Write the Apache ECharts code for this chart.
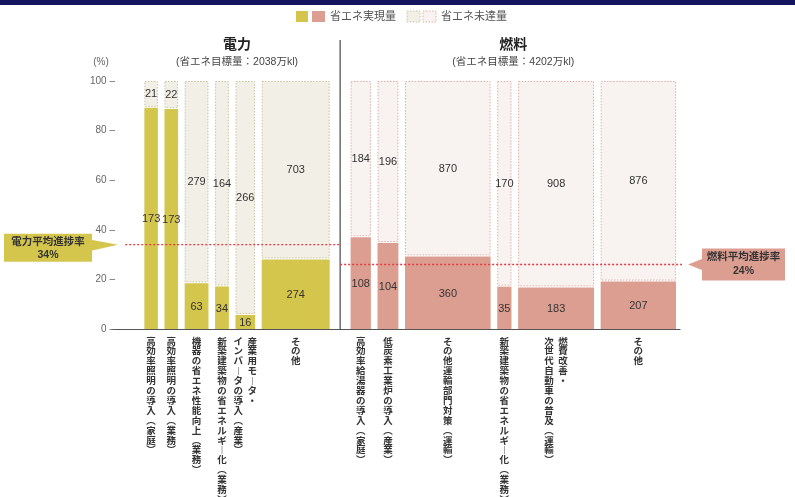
<!DOCTYPE html>
<html>
<head>
<meta charset="utf-8">
<script src="https://cdn.jsdelivr.net/npm/echarts@6.0.0/dist/echarts.min.js"></script>
<style>
html, body { margin: 0; padding: 0; background: #fff; }
#main { width: 795px; height: 497px; }
</style>
</head>
<body>
<div id="main"></div>
<script>
// 電力
var elecNames = ['高効率照明の導入（家庭）', '高効率照明の導入（業務）', '機器の省エネ性能向上（業務）',
  '新築建築物の省エネルギー化（業務）', '産業用モータ・\nインバータの導入（産業）', 'その他'];
var elecDone = [173, 173, 63, 34, 16, 274];
var elecLeft = [21, 22, 279, 164, 266, 703];

// 燃料
var fuelNames = ['高効率給湯器の導入（家庭）', '低炭素工業炉の導入（産業）', 'その他運輸部門対策（運輸）',
  '新築建築物の省エネルギー化（業務）', '燃費改善・\n次世代自動車の普及（運輸）', 'その他'];
var fuelDone = [108, 104, 360, 35, 183, 207];
var fuelLeft = [184, 196, 870, 170, 908, 876];

var elecAvg = 34;
var fuelAvg = 24;
var fuelAvgLine = 26; // the dashed line in the source sits a little above 24%
var elecTarget = 2038, fuelTarget = 4202;
var yMin = 0, yMax = 100, yStep = 20;

// horizontal layout in 万kl units (bar width = total amount)
var leftPad = 465, gap = 95, midGap = 300, xMax = 8161;

var FONT = "'Liberation Sans', 'Noto Sans CJK JP', sans-serif";
var colors = [
  { done: '#d4c54c', left: '#f2f0e6', border: '#c8c2a4' },
  { done: '#dd9e92', left: '#f8f2f1', border: '#e0afa7' }
];
var names = [elecNames, fuelNames];

var items = [];
var x = leftPad;
function addGroup(done, left, g) {
  for (var i = 0; i < done.length; i++) {
    var t = done[i] + left[i];
    items.push([x, x + t, done[i], left[i], g, i]);
    x += t + gap;
  }
  return x - gap;
}
var elecStart = x;
var elecEnd = addGroup(elecDone, elecLeft, 0);
x = elecEnd + midGap;
var fuelStart = x;
var fuelEnd = addGroup(fuelDone, fuelLeft, 1);
var divider = elecEnd + midGap / 2;

function tate(s) {
  return s.replace(/（/g, '︵').replace(/）/g, '︶').replace(/ー/g, '︱').split('').join('\n');
}

function renderItem(params, api) {
  var x0 = api.value(0), x1 = api.value(1);
  var d = api.value(2), l = api.value(3), g = api.value(4), n = api.value(5);
  var c = colors[g];
  var pct = d / (d + l) * 100;
  var bl = api.coord([x0, 0]), tr = api.coord([x1, 100]), mid = api.coord([x1, pct]);
  var w = tr[0] - bl[0], cx = bl[0] + w / 2;
  var children = [
    { type: 'rect', shape: { x: bl[0] + 0.5, y: tr[1] + 0.5, width: w - 1, height: mid[1] - tr[1] - 2 },
      style: { fill: c.left, stroke: c.border, lineWidth: 1, lineDash: [1.5, 1.5] } },
    { type: 'rect', shape: { x: bl[0], y: mid[1], width: w, height: bl[1] - mid[1] },
      style: { fill: c.done } },
    { type: 'text', style: { text: String(l), x: cx, y: (tr[1] + mid[1]) / 2, align: 'center', verticalAlign: 'middle',
      fill: '#333', fontSize: 11, fontFamily: FONT } },
    { type: 'text', style: { text: String(d), x: cx, y: (mid[1] + bl[1]) / 2 + 1, align: 'center', verticalAlign: 'middle',
      fill: '#333', fontSize: 11, fontFamily: FONT } }
  ];
  var lines = names[g][n].split('\n');
  lines.forEach(function (s, j) {
    var off = ((lines.length - 1) / 2 - j) * 14;
    children.push({ type: 'text', style: { text: tate(s), x: cx + off, y: bl[1] + 7, align: 'center', verticalAlign: 'top',
      fill: '#333', fontSize: 9.5, fontWeight: 'bold', lineHeight: 9.9, fontFamily: "'Noto Sans CJK JP', sans-serif" } });
  });
  return { type: 'group', children: children };
}

var chart = echarts.init(document.getElementById('main'));
var option = {
  backgroundColor: '#fff',
  animation: false,
  grid: { left: 112, right: 115, top: 81, bottom: 168 },
  xAxis: {
    type: 'value', min: 0, max: xMax,
    axisLine: { show: true, lineStyle: { color: '#555', width: 1.2 } },
    axisTick: { show: false }, axisLabel: { show: false }, splitLine: { show: false }
  },
  yAxis: {
    type: 'value', min: yMin, max: yMax, interval: yStep,
    axisLine: { show: false }, axisTick: { show: false }, splitLine: { show: false },
    axisLabel: { formatter: '{value} –', color: '#666', fontSize: 10, margin: -3, fontFamily: FONT }
  },
  series: [
    { type: 'custom', renderItem: renderItem, data: items, clip: false, z: 2 },
    { type: 'line', data: [[divider, 0], [divider, 116.5]], symbol: 'none', clip: false, silent: true, z: 3,
      lineStyle: { color: '#555', width: 1.3 } },
    { type: 'line', data: [[190, elecAvg], [divider, elecAvg]], symbol: 'none', clip: false, silent: true, z: 4,
      lineStyle: { color: '#e23b3f', width: 1.3, type: [2, 2] } },
    { type: 'line', data: [[divider, fuelAvgLine], [xMax + 140, fuelAvgLine]], symbol: 'none', clip: false, silent: true, z: 4,
      lineStyle: { color: '#e23b3f', width: 1.3, type: [2, 2] } }
  ]
};
chart.setOption(option);

function px(v) { return chart.convertToPixel({ gridIndex: 0 }, v); }
var eC = (px([elecStart, 0])[0] + px([elecEnd, 0])[0]) / 2;
var fC = (px([fuelStart, 0])[0] + px([fuelEnd, 0])[0]) / 2;
var yE = px([0, elecAvg])[1];
var yF = px([0, fuelAvgLine])[1];

function txt(t, x, y, size, weight, color, align) {
  return { type: 'text', style: { text: t, x: x, y: y, align: align || 'center', verticalAlign: 'middle',
    fontSize: size, fontWeight: weight || 'normal', fill: color || '#333', fontFamily: FONT } };
}

chart.setOption({
  graphic: [
    { type: 'rect', shape: { x: 0, y: 0, width: 795, height: 5 }, style: { fill: '#15155f' } },
    // legend
    { type: 'rect', shape: { x: 296, y: 11, width: 12, height: 11 }, style: { fill: colors[0].done } },
    { type: 'rect', shape: { x: 312, y: 11, width: 13, height: 11 }, style: { fill: colors[1].done } },
    txt('省エネ実現量', 330, 16.5, 11, 'normal', '#555', 'left'),
    { type: 'rect', shape: { x: 407, y: 11, width: 13, height: 11 },
      style: { fill: colors[0].left, stroke: colors[0].border, lineDash: [1.5, 1.5] } },
    { type: 'rect', shape: { x: 423, y: 11, width: 13, height: 11 },
      style: { fill: colors[1].left, stroke: colors[1].border, lineDash: [1.5, 1.5] } },
    txt('省エネ未達量', 441, 16.5, 11, 'normal', '#555', 'left'),
    // titles
    txt('(%)', 101, 62, 10, 'normal', '#666'),
    txt('電力', eC, 45, 14, 'bold', '#222'),
    txt('(省エネ目標量：' + elecTarget + '万kl)', eC, 62, 10.5, 'normal', '#444'),
    txt('燃料', fC, 45, 14, 'bold', '#222'),
    txt('(省エネ目標量：' + fuelTarget + '万kl)', fC, 62, 10.5, 'normal', '#444'),
    // callouts
    { type: 'polygon', shape: { points: [[91, yE - 5], [118, yE], [91, yE + 6]] }, style: { fill: colors[0].done } },
    { type: 'rect', shape: { x: 4, y: yE - 11, width: 88, height: 28 }, style: { fill: colors[0].done } },
    txt('電力平均進捗率', 48, yE - 3, 10.5, 'bold', '#333'),
    txt(elecAvg + '%', 48, yE + 10, 10.5, 'bold', '#333'),
    { type: 'polygon', shape: { points: [[703, yF - 6], [688, yF], [703, yF + 6]] }, style: { fill: colors[1].done } },
    { type: 'rect', shape: { x: 702, y: yF - 16, width: 83, height: 32 }, style: { fill: colors[1].done } },
    txt('燃料平均進捗率', 743.5, yF - 7, 10.5, 'bold', '#333'),
    txt(fuelAvg + '%', 743.5, yF + 7, 10.5, 'bold', '#333')
  ]
});
</script>
</body>
</html>
